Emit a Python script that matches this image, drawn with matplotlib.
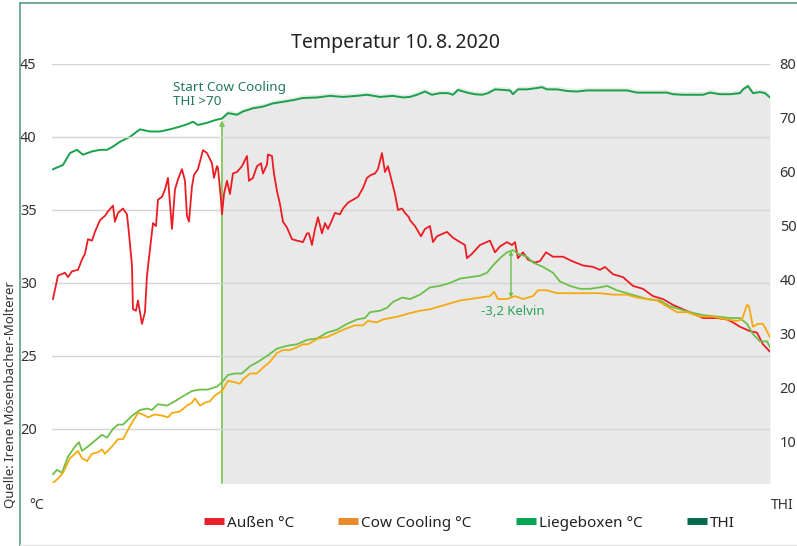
import numpy as np
import matplotlib
matplotlib.use('Agg')
import matplotlib.pyplot as plt
from matplotlib.lines import Line2D

plt.rcParams['font.family'] = ['Noto Sans', 'DejaVu Sans']

# Messpunkte (Zeitachse ohne Beschriftung)
t_aussen = np.array([1, 6, 13, 16, 20, 26, 30, 33, 36, 40, 43, 48, 53, 56, 61, 63, 66, 71, 75, 77, 80, 81, 84, 86, 88, 90,
                     93, 95, 98, 101, 104, 106, 110, 113, 116, 120, 123, 126, 130, 133, 135, 137, 140, 142, 146, 151,
                     155, 160, 162, 165, 166, 169, 170, 172, 175, 178, 181, 185, 190, 195, 197, 201, 205, 209, 211,
                     215, 216, 220, 222, 225, 228, 231, 235, 240, 245, 251, 255, 257, 260, 263, 266, 270, 273, 276,
                     280, 283, 288, 291, 296, 301, 306, 311, 315, 319, 323, 326, 330, 333, 336, 340, 343, 346, 350,
                     353, 357, 358, 363, 369, 373, 378, 381, 385, 395, 401, 408, 413, 415, 420, 428, 438, 443, 448,
                     455, 460, 463, 466, 471, 476, 483, 488, 494, 501, 511, 520, 531, 541, 548, 553, 561, 571, 581,
                     591, 601, 611, 621, 631, 641, 651, 665, 675, 681, 688, 698, 705, 711, 718])
aussen = np.array([28.9, 30.5, 30.7, 30.4, 30.8, 30.9, 31.6, 32.0, 33.0, 32.9, 33.5, 34.3, 34.6, 34.9, 35.3, 34.2, 34.8,
                   35.1, 34.7, 33.4, 31.2, 28.2, 28.1, 28.8, 28.0, 27.2, 28.0, 30.5, 32.3, 34.1, 33.9, 35.7, 35.9,
                   36.4, 37.2, 33.7, 36.4, 37.1, 37.8, 37.0, 34.6, 34.2, 36.6, 37.4, 37.8, 39.1, 38.9, 38.2, 37.2,
                   38.0, 37.9, 35.7, 34.7, 36.1, 37.0, 36.1, 37.5, 37.6, 38.0, 38.7, 37.0, 37.2, 38.0, 38.2, 37.5,
                   38.1, 38.8, 38.7, 37.5, 36.3, 35.4, 34.2, 33.8, 33.0, 32.9, 32.8, 33.4, 33.4, 32.6, 33.7, 34.5,
                   33.4, 34.1, 33.7, 34.3, 34.8, 34.7, 35.1, 35.5, 35.7, 35.9, 36.5, 37.2, 37.4, 37.5, 37.8, 38.9,
                   37.6, 38.0, 36.9, 36.1, 35.0, 35.1, 34.8, 34.5, 34.3, 33.9, 33.2, 33.7, 33.9, 32.8, 33.2, 33.5,
                   33.1, 32.8, 32.6, 31.7, 32.0, 32.6, 32.9, 32.1, 32.5, 32.8, 32.6, 32.8, 31.7, 32.1, 31.6, 31.4,
                   31.5, 32.1, 31.8, 31.8, 31.5, 31.2, 31.1, 30.9, 31.1, 30.6, 30.4, 29.8, 29.6, 29.1, 28.9, 28.5,
                   28.2, 27.9, 27.6, 27.6, 27.5, 27.3, 27.0, 26.7, 26.6, 25.8, 25.3])

t_cool = np.array([1, 6, 11, 18, 23, 26, 30, 35, 40, 46, 50, 53, 60, 66, 71, 78, 86, 91, 96, 103, 111, 116, 120, 128,
                   135, 140, 143, 148, 153, 158, 163, 170, 176, 183, 188, 191, 198, 205, 211, 218, 225, 231, 238, 245,
                   251, 256, 261, 266, 275, 285, 295, 303, 311, 316, 325, 331, 338, 346, 356, 368, 378, 388, 398,
                   408, 418, 428, 438, 442, 446, 455, 463, 471, 481, 486, 495, 505, 515, 531, 548, 561, 575, 585,
                   595, 605, 615, 625, 635, 648, 661, 675, 685, 690, 695, 697, 701, 706, 711, 718])
cow_cooling = np.array([16.3, 16.6, 17.0, 18.0, 18.3, 18.5, 18.0, 17.8, 18.3, 18.4, 18.6, 18.3, 18.8, 19.3, 19.3, 20.2,
                        21.1, 21.0, 20.8, 21.0, 20.9, 20.8, 21.1, 21.2, 21.6, 21.8, 22.1, 21.6, 21.8, 21.9, 22.3,
                        22.6, 23.3, 23.2, 23.1, 23.4, 23.8, 23.8, 24.2, 24.6, 25.2, 25.4, 25.4, 25.6, 25.8, 25.8,
                        26.0, 26.2, 26.3, 26.6, 26.9, 27.1, 27.1, 27.4, 27.3, 27.5, 27.6, 27.7, 27.9, 28.1, 28.2,
                        28.4, 28.6, 28.8, 28.9, 29.0, 29.1, 29.4, 28.9, 28.9, 29.1, 28.9, 29.1, 29.5, 29.5, 29.3,
                        29.3, 29.3, 29.3, 29.2, 29.2, 29.0, 28.9, 28.8, 28.4, 28.0, 28.0, 27.7, 27.7, 27.5, 27.4,
                        27.5, 28.5, 28.4, 27.0, 27.2, 27.2, 26.3])

t_box = np.array([1, 5, 10, 16, 23, 27, 30, 36, 43, 50, 55, 61, 66, 71, 80, 88, 95, 100, 106, 115, 123, 130, 140, 148,
                  156, 165, 170, 176, 183, 190, 198, 206, 215, 225, 235, 245, 255, 265, 275, 285, 295, 305, 313, 318,
                  328, 335, 341, 350, 358, 368, 378, 388, 398, 408, 418, 428, 435, 441, 448, 455, 461, 466, 475,
                  481, 491, 501, 508, 518, 528, 538, 548, 555, 565, 575, 585, 595, 608, 618, 628, 638, 651, 665,
                  678, 688, 695, 701, 708, 715, 718])
liegeboxen = np.array([16.9, 17.2, 17.0, 18.1, 18.8, 19.1, 18.5, 18.8, 19.2, 19.6, 19.4, 20.0, 20.3, 20.3, 20.9, 21.3,
                       21.4, 21.3, 21.7, 21.6, 21.9, 22.2, 22.6, 22.7, 22.7, 22.9, 23.2, 23.7, 23.8, 23.8, 24.3,
                       24.6, 25.0, 25.5, 25.7, 25.8, 26.1, 26.2, 26.6, 26.8, 27.2, 27.5, 27.6, 28.0, 28.1, 28.3,
                       28.7, 29.0, 28.9, 29.2, 29.7, 29.8, 30.0, 30.3, 30.4, 30.5, 30.7, 31.2, 31.7, 32.1, 32.25,
                       32.0, 31.8, 31.4, 31.1, 30.7, 30.1, 29.8, 29.6, 29.6, 29.7, 29.8, 29.5, 29.3, 29.1, 28.9,
                       28.8, 28.4, 28.2, 28.0, 27.8, 27.7, 27.6, 27.6, 27.2, 26.5, 26.0, 26.0, 25.6])

t_thi = np.array([1, 11, 18, 25, 31, 40, 48, 55, 58, 61, 68, 78, 88, 98, 108, 118, 128, 136, 141, 146, 155, 163, 170,
                  176, 185, 191, 201, 211, 221, 231, 241, 251, 265, 278, 291, 305, 315, 328, 341, 351, 358, 365, 373,
                  380, 388, 396, 401, 406, 415, 423, 430, 436, 443, 451, 458, 461, 466, 475, 483, 490, 495, 505, 515,
                  525, 535, 545, 555, 565, 575, 585, 595, 605, 615, 621, 631, 641, 651, 658, 668, 678, 688, 691,
                  696, 701, 708, 713, 718])
thi = np.array([60.5, 61.3, 63.5, 64.1, 63.2, 63.8, 64.1, 64.1, 64.4, 64.7, 65.6, 66.5, 67.9, 67.5, 67.5, 67.9, 68.4,
                68.9, 69.3, 68.7, 69.1, 69.6, 69.9, 70.9, 70.6, 71.2, 71.8, 72.1, 72.7, 73.0, 73.3, 73.7, 73.8, 74.1,
                73.9, 74.1, 74.3, 73.9, 74.1, 73.8, 73.9, 74.3, 74.9, 74.3, 74.6, 74.6, 74.3, 75.2, 74.7, 74.4, 74.3,
                74.6, 75.3, 75.2, 75.1, 74.4, 75.3, 75.3, 75.5, 75.7, 75.3, 75.3, 75.0, 74.9, 75.1, 75.1, 75.1,
                75.1, 75.1, 74.7, 74.7, 74.7, 74.7, 74.4, 74.3, 74.3, 74.3, 74.7, 74.4, 74.4, 74.6, 75.3, 75.9,
                74.6, 74.8, 74.6, 73.8])

start_cooling = 170   # Start Cow Cooling (THI > 70)
kelvin_t = 459        # Differenz Liegeboxen / Cow Cooling

left_ticks = [20, 25, 30, 35, 40, 45]
right_ticks = [10, 20, 30, 40, 50, 60, 70, 80]

fig = plt.figure(figsize=(7.97, 5.46), dpi=100)
ax = fig.add_axes([0.0652, 0.1154, 0.9009, 0.7674])
ax2 = ax.twinx()
ax.set_zorder(ax2.get_zorder() + 1)
ax.patch.set_visible(False)

ax.set_xlim(0, 718)
ax.set_ylim(16.3, 45)
ax2.set_ylim(2.4, 80)

# grau hinterlegter Bereich ab Start Cow Cooling
m = t_thi > start_cooling
fill_t = np.r_[start_cooling, t_thi[m]]
fill_top = np.r_[np.interp(start_cooling, t_thi, thi), thi[m]] + 0.6
ax2.fill_between(fill_t, 0, fill_top, color='#e9e9e9', lw=0, zorder=0)

ax2.plot(t_thi, thi, color='#17a24a', lw=1.4, zorder=3)
thi_start = np.interp(start_cooling, t_thi, thi)
ax2.annotate('', xy=(start_cooling, thi_start - 0.3), xytext=(start_cooling, 2.4),
             arrowprops=dict(arrowstyle='-|>', color='#7cc85c', lw=1.3, mutation_scale=7, shrinkA=0, shrinkB=0),
             zorder=2)

ax.plot(t_aussen, aussen, color='#ec1c24', lw=1.3, zorder=3)
ax.plot(t_box, liegeboxen, color='#6cc04a', lw=1.3, zorder=3)
ax.plot(t_cool, cow_cooling, color='#f5aa0f', lw=1.3, zorder=3)

# -3,2 Kelvin
k_top = np.interp(kelvin_t, t_box, liegeboxen)
k_bot = np.interp(kelvin_t, t_cool, cow_cooling)
ax.annotate('', xy=(kelvin_t, k_top), xytext=(kelvin_t, k_bot),
            arrowprops=dict(arrowstyle='<|-|>', color='#6cc04a', lw=1.0, mutation_scale=5, shrinkA=0, shrinkB=0))
ax.text(kelvin_t + 2, k_bot - 0.95, '-3,2 Kelvin', color='#2aa65a', fontsize=9.5, ha='center', va='center')

ax.text(0.1685, 0.927, 'Start Cow Cooling\nTHI >70', transform=ax.transAxes, color='#23785c',
        fontsize=9.7, ha='left', va='center', linespacing=1.15)

ax.set_yticks(left_ticks)
ax.set_xticks([])
ax2.set_yticks(right_ticks)
ax.grid(axis='y', color='#d4d4d4', lw=1.0)
ax.tick_params(axis='y', length=0, pad=11, labelsize=10.5, labelcolor='#333333')
ax2.tick_params(axis='y', length=0, pad=7, labelsize=10.5, labelcolor='#333333')
for a in (ax, ax2):
    for s in a.spines.values():
        s.set_visible(False)

fig.text(0.496, 0.921, 'Temperatur 10.\u20098.\u20092020', fontsize=14, color='#222222', ha='center', va='center')
fig.text(0.046, 0.075, '°C', fontsize=10, color='#333333', ha='center', va='center')
fig.text(0.982, 0.075, 'THI', fontsize=10, color='#333333', ha='center', va='center')
fig.text(0.013, 0.277, 'Quelle: Irene Mösenbacher-Molterer', fontsize=9.5, color='#333333',
         rotation=90, ha='center', va='center')

# Rahmen
fig.add_artist(Line2D([0.0251, 0.0251], [0, 0.9945], transform=fig.transFigure, color='#5b9c8a', lw=1.2))
fig.add_artist(Line2D([0.0251, 1], [0.9945, 0.9945], transform=fig.transFigure, color='#5b9c8a', lw=1.2))
fig.add_artist(Line2D([0.0251, 1], [0.002, 0.002], transform=fig.transFigure, color='#e4e4e4', lw=1))

labels = ['Außen °C', 'Cow Cooling °C', 'Liegeboxen °C', 'THI']
legend_colors = ['#e8202a', '#e8892a', '#00a651', '#006a4e']
handles = [Line2D([], [], color=c, lw=5, solid_capstyle='butt') for c in legend_colors]
fig.legend(handles, labels, loc='center', bbox_to_anchor=(0.589, 0.042), ncol=4, frameon=False,
           fontsize=11, handlelength=1.3, handletextpad=0.2, columnspacing=2.9, labelcolor='#222222')

fig.savefig('out.png', dpi=100)
